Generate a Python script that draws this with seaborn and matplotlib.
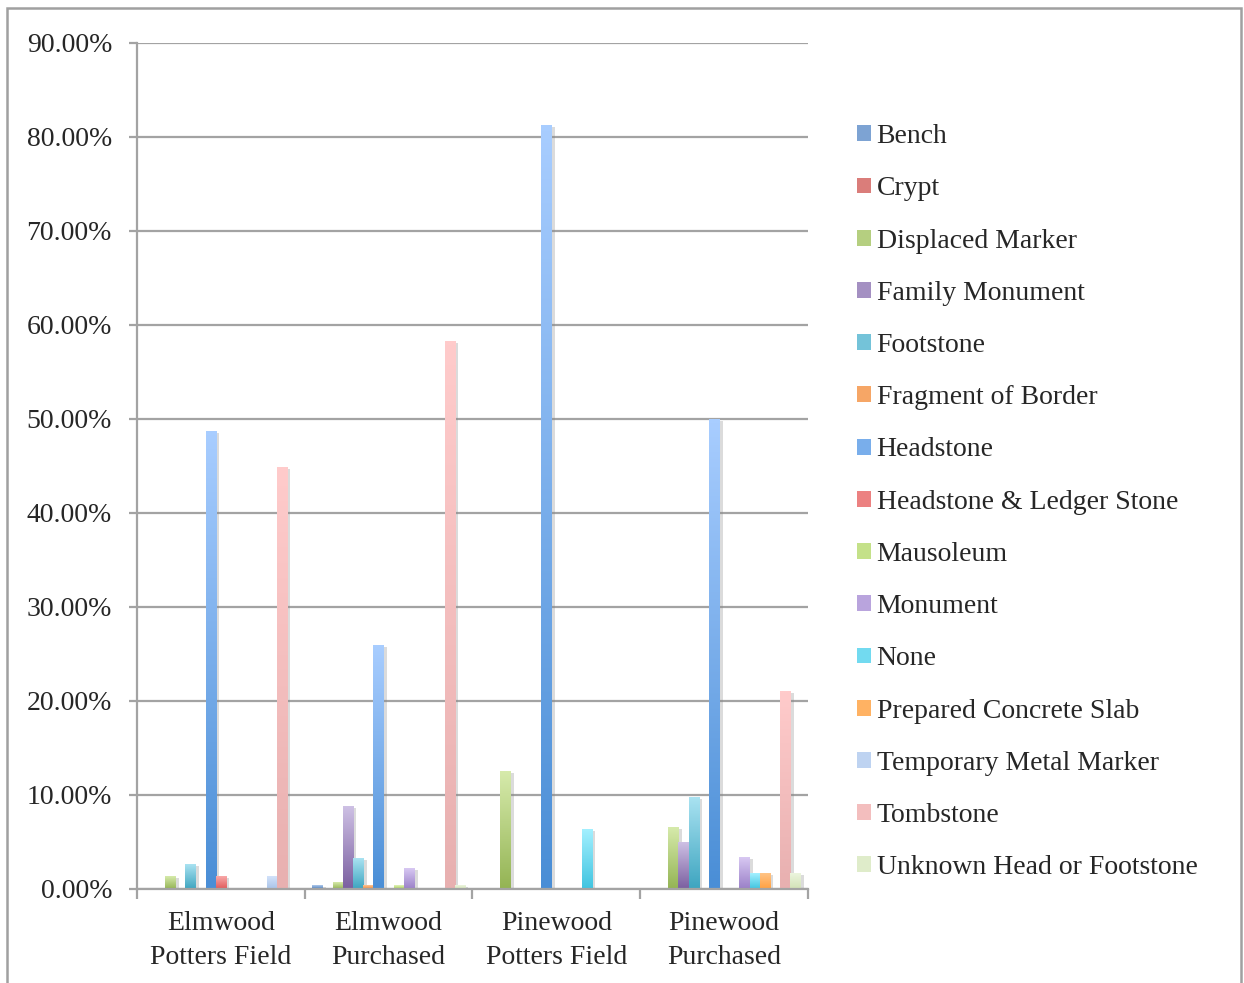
import numpy as np
import pandas as pd
import seaborn as sns
import matplotlib
matplotlib.use("Agg")
import matplotlib.pyplot as plt
from matplotlib.colors import to_rgb
from matplotlib.patches import Rectangle, Patch
from matplotlib.ticker import FixedLocator, PercentFormatter
import matplotlib.patheffects as pe

# Share of each marker type (percent) by cemetery section
sites = ["Elmwood\nPotters Field", "Elmwood\nPurchased",
         "Pinewood\nPotters Field", "Pinewood\nPurchased"]

marker_types = ["Bench", "Crypt", "Displaced Marker", "Family Monument",
                "Footstone", "Fragment of Border", "Headstone",
                "Headstone & Ledger Stone", "Mausoleum", "Monument", "None",
                "Prepared Concrete Slab", "Temporary Metal Marker",
                "Tombstone", "Unknown Head or Footstone"]

elmwood_potters = [0.0, 0.0, 1.3, 0.0, 2.6, 0.0, 48.7, 1.3, 0.0, 0.0, 0.0,
                   0.0, 1.3, 44.8, 0.0]
elmwood_purchased = [0.4, 0.0, 0.7, 8.8, 3.2, 0.4, 25.9, 0.0, 0.4, 2.2, 0.0,
                     0.0, 0.0, 58.2, 0.4]
pinewood_potters = [0.0, 0.0, 12.5, 0.0, 0.0, 0.0, 81.2, 0.0, 0.0, 0.0, 6.3,
                    0.0, 0.0, 0.0, 0.0]
pinewood_purchased = [0.0, 0.0, 6.5, 4.9, 9.7, 0.0, 49.9, 0.0, 0.0, 3.3, 1.6,
                      1.6, 0.0, 21.0, 1.6]

# (top, bottom) gradient colours per marker type
grad_top = ["#b0c9ec", "#f4a9a7", "#d6eaab", "#cdc0e4", "#a9e2f1", "#fcc391",
            "#a8cdff", "#f8a8a8", "#e2f3b8", "#d8c8f2", "#a3f0ff", "#ffc486",
            "#d2e2fa", "#ffcbcb", "#ecf5de"]
grad_bot = ["#4a7ebb", "#c0504d", "#94b454", "#7b5fa0", "#3ea5c0", "#f08a3a",
            "#4a8ed6", "#e05a5a", "#a6ce5a", "#9a80c8", "#40c4e0", "#ffa040",
            "#a9c3e8", "#e8b0b0", "#d2e2b6"]

rows = []
for site, vals in zip(sites, [elmwood_potters, elmwood_purchased,
                              pinewood_potters, pinewood_purchased]):
    for t, v in zip(marker_types, vals):
        rows.append({"site": site, "type": t, "pct": v / 100.0})
df = pd.DataFrame(rows)

mid_colors = [tuple((np.array(to_rgb(a)) + np.array(to_rgb(b))) / 2)
              for a, b in zip(grad_top, grad_bot)]

sns.set_style("white")
plt.rcParams["font.family"] = ["Liberation Serif", "DejaVu Serif"]

fig = plt.figure(figsize=(12.44, 9.83), dpi=100)
ax = fig.add_axes([137 / 1244, 1 - 889 / 983, (808 - 137) / 1244, (889 - 43) / 983])

sns.barplot(data=df, x="site", y="pct", hue="type", order=sites,
            hue_order=marker_types, palette=mid_colors, width=0.91,
            dodge=True, legend=False, ax=ax, errorbar=None, linewidth=0)

# Paint each bar with a vertical gradient and a soft drop shadow
bar_patches = [p for p in ax.patches if isinstance(p, Rectangle)]
for i, p in enumerate(bar_patches):
    h = p.get_height()
    if h <= 0:
        continue
    k = i // len(sites)
    x0, w = p.get_x(), p.get_width()
    top = np.array(to_rgb(grad_top[k]))
    bot = np.array(to_rgb(grad_bot[k]))
    t = np.linspace(0, 1, 64)[:, None]
    img = (top[None, :] * (1 - t) + bot[None, :] * t)[:, None, :]
    p.set_path_effects([pe.SimplePatchShadow(offset=(2.5, -1), shadow_rgbFace="#888888", alpha=0.3)])
    ax.imshow(img, extent=[x0, x0 + w, 0, h], aspect="auto",
              interpolation="bilinear", zorder=p.get_zorder() + 0.1)

ax.set_xlim(-0.5, 3.5)
ax.set_ylim(0, 0.9)
ax.set_xlabel("")
ax.set_ylabel("")

grid_c = "#a3a3a3"
ax.yaxis.set_major_locator(FixedLocator(np.arange(0, 0.91, 0.1)))
ax.yaxis.set_major_formatter(PercentFormatter(1.0, decimals=2))
ax.grid(axis="y", color=grid_c, linewidth=1.6, zorder=0)
ax.set_axisbelow(True)
for s in ["top", "right"]:
    ax.spines[s].set_visible(False)
for s in ["left", "bottom"]:
    ax.spines[s].set_color(grid_c)
    ax.spines[s].set_linewidth(1.6)

ax.tick_params(axis="y", which="major", length=6, width=1.6, color=grid_c,
               labelsize=20, pad=12, direction="out", left=True)
ax.xaxis.set_minor_locator(FixedLocator([-0.5, 0.5, 1.5, 2.5, 3.5]))
ax.tick_params(axis="x", which="minor", length=7, width=1.6, color=grid_c,
               direction="out", bottom=True)
ax.tick_params(axis="x", which="major", length=0, labelsize=20, pad=16)
for lab in ax.get_xticklabels():
    lab.set_linespacing(1.45)

handles = [Patch(facecolor=c, edgecolor="none") for c in mid_colors]
fig.legend(handles, marker_types, loc="upper left",
           bbox_to_anchor=(846 / 1244, 1 - 113 / 983), frameon=False,
           fontsize=20, handlelength=0.5, handleheight=0.5,
           handletextpad=0.2, labelspacing=0.98, borderaxespad=0)

# outer chart frame
fig.patches.append(Rectangle((7 / 1244, -0.02), (1241 - 7) / 1244, 1.02 - 8 / 983,
                             transform=fig.transFigure, fill=False,
                             edgecolor="#a0a0a0", linewidth=1.8))

fig.savefig("out.png", dpi=100)
